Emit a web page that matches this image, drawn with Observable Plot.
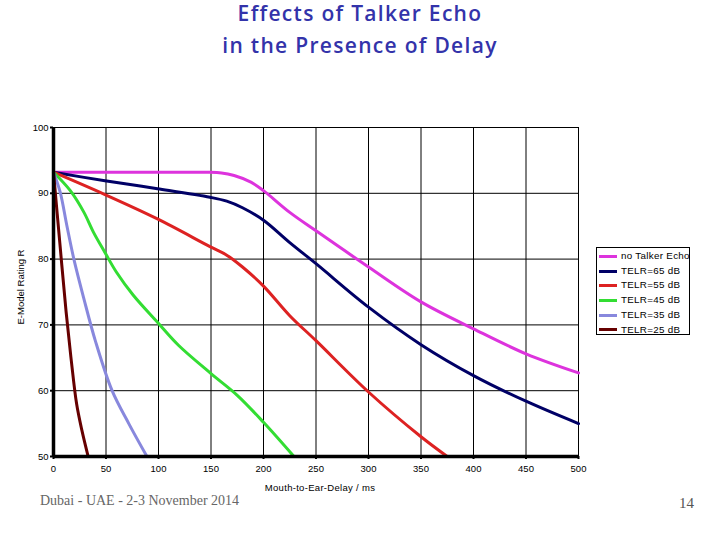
<!DOCTYPE html>
<html><head><meta charset="utf-8">
<script src="https://cdn.jsdelivr.net/npm/d3@7"></script>
<script src="https://cdn.jsdelivr.net/npm/@observablehq/plot@0.6"></script>
<style>
body{margin:0;background:#fff;}
#wrap{position:relative;width:720px;height:540px;overflow:hidden;font-family:"Liberation Sans",Arial,sans-serif;}
#title{position:absolute;left:0;width:720px;top:-3.4px;text-align:center;color:#3333aa;font-family:"Open Sans",sans-serif;font-weight:600;font-size:21px;line-height:32px;letter-spacing:1.3px;}
#ylab{position:absolute;left:19.5px;top:287px;transform:translate(-50%,-50%) rotate(-90deg);font-size:9.5px;white-space:nowrap;}
#xlab{position:absolute;left:320px;top:482px;transform:translateX(-50%);font-size:9.5px;white-space:nowrap;letter-spacing:0.3px;}
#legend{position:absolute;left:596px;top:247px;width:94px;height:88px;border:1px solid #000;box-sizing:border-box;overflow:hidden;font-size:9.8px;}
.item{position:absolute;left:2px;height:14px;white-space:nowrap;line-height:14px;letter-spacing:0.3px;}
.sw{display:inline-block;width:18px;height:3px;vertical-align:middle;margin-right:4px;}
#foot{position:absolute;left:40px;top:493px;font-family:"Liberation Serif","Times New Roman",serif;font-size:14px;color:#666;}
#page{position:absolute;left:679px;top:495px;font-family:"Liberation Serif","Times New Roman",serif;font-size:15px;color:#555;}
svg{position:absolute;left:0;top:0;}
</style></head>
<body><div id="wrap"></div>
<script>
const seriesNames = ["no Talker Echo","TELR=65 dB","TELR=55 dB","TELR=45 dB","TELR=35 dB","TELR=25 dB"];
const seriesColors = ["#dd33dd","#000066","#dd2222","#33dd33","#8888dd","#660000"];

const noEchoX = [0,50,100,146,160,172,188,200,225,250,300,350,400,450,500];
const noEchoY = [93.2,93.2,93.2,93.2,93.1,92.7,91.7,90.4,87.1,84.3,78.8,73.5,69.4,65.6,62.7];
const telr65X = [0,49,99,149,165,180,200,225,250,300,350,400,450,500];
const telr65Y = [93.2,91.9,90.7,89.4,88.8,87.8,85.9,82.5,79.3,72.7,67.0,62.3,58.4,55.0];
const telr55X = [0,49,99,149,165,180,200,225,250,300,350,375];
const telr55Y = [93.2,89.8,86.1,81.9,80.6,78.8,75.9,71.4,67.6,59.8,53.0,50];
const telr45X = [0,16,29,38,49,60,76,99,119,150,175,200,229];
const telr45Y = [93.2,90.4,87.1,84.1,81.0,78.0,74.5,70.4,66.9,62.6,59.3,55.2,50];
const telr35X = [0,6.3,12.7,19.4,28.9,40,55.8,71.7,89];
const telr35Y = [93.2,90.2,85.1,80.0,74.0,67.5,60.0,55.0,50];
const telr25X = [0,6,12,17,22,27,33];
const telr25Y = [93.2,82.5,72.0,64.5,58.0,54.0,50];

const xTicks = [0,50,100,150,200,250,300,350,400,450,500];
const yTicks = [50,60,70,80,90,100];

const allX = [noEchoX,telr65X,telr55X,telr45X,telr35X,telr25X];
const allY = [noEchoY,telr65Y,telr55Y,telr45Y,telr35Y,telr25Y];
const data = [];
allX.forEach((xs,i)=>xs.forEach((x,j)=>data.push({s:seriesNames[i],x,y:allY[i][j]})));

const plot = Plot.plot({
  width:720, height:540,
  marginLeft:53, marginRight:142, marginTop:127, marginBottom:84,
  style:{fontFamily:'"Liberation Sans",Arial,sans-serif',fontSize:"9.5px",color:"#000",background:"transparent"},
  x:{domain:[0,500],ticks:xTicks,label:null},
  y:{domain:[50,100],ticks:yTicks,label:null},
  color:{domain:seriesNames,range:seriesColors},
  marks:[
    Plot.gridX(xTicks,{stroke:"#000",strokeOpacity:1,strokeWidth:1}),
    Plot.gridY(yTicks,{stroke:"#000",strokeOpacity:1,strokeWidth:1}),
    Plot.frame({stroke:"#000",strokeWidth:1}),
    Plot.line(data,{x:"x",y:"y",z:"s",stroke:"s",strokeWidth:3,curve:"catmull-rom"}),
    Plot.ruleX([0],{stroke:"#000",strokeWidth:3.5}),
    Plot.ruleY([50],{stroke:"#000",strokeWidth:3.5}),
    Plot.axisX({ticks:xTicks,tickSize:3,tickPadding:6,stroke:"#000",strokeWidth:2,fontSize:"9.5px"}),
    Plot.axisY({ticks:yTicks,tickSize:3,tickPadding:2,stroke:"#000",strokeWidth:2,fontSize:"9.5px"})
  ]
});

const wrap = document.getElementById("wrap");
wrap.appendChild(plot);
const t = document.createElement("div"); t.id="title";
t.innerHTML = "Effects of Talker Echo<br>in the Presence of Delay"; wrap.appendChild(t);
const yl = document.createElement("div"); yl.id="ylab"; yl.textContent="E-Model Rating R"; wrap.appendChild(yl);
const xl = document.createElement("div"); xl.id="xlab"; xl.textContent="Mouth-to-Ear-Delay / ms"; wrap.appendChild(xl);
const lg = document.createElement("div"); lg.id="legend";
seriesNames.forEach((n,i)=>{
  const it=document.createElement("div"); it.className="item"; it.style.top=(1+i*14.7)+"px";
  it.innerHTML=`<span class="sw" style="background:${seriesColors[i]}"></span>${n}`;
  lg.appendChild(it);
});
wrap.appendChild(lg);
const f = document.createElement("div"); f.id="foot"; f.textContent="Dubai - UAE - 2-3 November 2014"; wrap.appendChild(f);
const p = document.createElement("div"); p.id="page"; p.textContent="14"; wrap.appendChild(p);
</script></body></html>
